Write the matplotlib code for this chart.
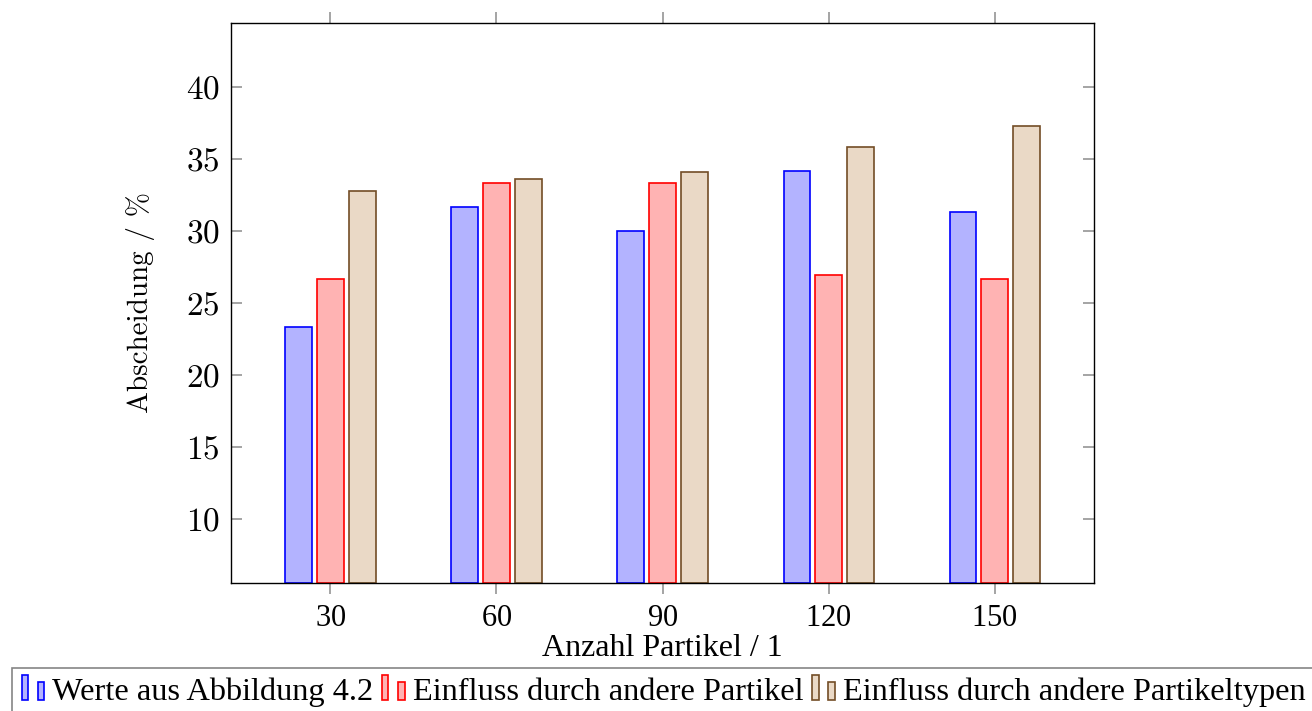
import matplotlib
matplotlib.use('Agg')
import matplotlib.pyplot as plt
from matplotlib.patches import Rectangle
from matplotlib.legend_handler import HandlerBase
import numpy as np

# Messwerte
anzahl = [30, 60, 90, 120, 150]
werte_abb = [23.33, 31.67, 30.0, 34.17, 31.33]
einfluss_partikel = [26.67, 33.33, 33.33, 26.95, 26.67]
einfluss_typen = [32.8, 33.6, 34.08, 35.83, 37.33]

namen = ['Werte aus Abbildung 4.2',
         'Einfluss durch andere Partikel',
         'Einfluss durch andere Partikeltypen']
kanten = ['#0000ff', '#ff0000', '#734d26']
fuellung = ['#b3b3ff', '#ffb3b3', '#ead9c6']

plt.rcParams['axes.formatter.use_mathtext'] = True
cm = 'cmr10'
lib = 'Liberation Serif'


# Legendensymbol wie bei pgfplots: zwei kleine Balken
class ZweiBalken(HandlerBase):
    def create_artists(self, legend, orig, xd, yd, w, h, fs, trans):
        fc = orig.get_facecolor()
        ec = orig.get_edgecolor()
        b = w * 0.26
        r1 = Rectangle((-xd, -yd), b, h * 1.1, fc=fc, ec=ec, lw=1.2, transform=trans)
        r2 = Rectangle((-xd + w * 0.68, -yd), b, h * 0.8, fc=fc, ec=ec, lw=1.2, transform=trans)
        return [r1, r2]


fig = plt.figure(figsize=(13.12, 7.11), dpi=100)
ax = fig.add_axes([0.1759, 0.1796, 0.6582, 0.7887])

x = np.array(anzahl, dtype=float)
breite = 4.8
abstand = 5.75
boden = 5.5
handles = []
for i, werte in enumerate([werte_abb, einfluss_partikel, einfluss_typen]):
    h = np.array(werte) - boden
    b = ax.bar(x + (i - 1) * abstand, h, breite, bottom=boden,
               facecolor=fuellung[i], edgecolor=kanten[i], linewidth=1.2,
               label=namen[i], zorder=2)
    handles.append(b.patches[0])

ax.set_xlim(12, 168)
ax.set_ylim(5.5, 44.5)
ax.set_xticks(anzahl)
ax.set_yticks([10, 15, 20, 25, 30, 35, 40])

ax.tick_params(axis='x', direction='out', length=8, width=1.1, color='#8c8c8c',
               top=True, pad=7, labelsize=22)
ax.tick_params(axis='y', direction='in', length=8, width=1.1, color='#8c8c8c',
               right=True, pad=8, labelsize=24)
for t in ax.get_xticklabels():
    t.set_fontfamily(lib)
for t in ax.get_yticklabels():
    t.set_fontfamily(cm)
for s in ax.spines.values():
    s.set_linewidth(1.0)

ax.set_ylabel('Abscheidung / %', fontfamily=cm, fontsize=21)
ax.yaxis.set_label_coords(-0.088, 0.5)
ax.set_xlabel('Anzahl Partikel / 1', fontfamily=lib, fontsize=23)
ax.xaxis.set_label_coords(0.5, -0.09)

leg = fig.legend(handles, namen, loc='upper left',
                 bbox_to_anchor=(12 / 1312, 1 - 668 / 711),
                 ncol=3, prop={'family': lib, 'size': 23.3},
                 handler_map={Rectangle: ZweiBalken()},
                 handlelength=0.73, handleheight=0.7, handletextpad=0.22,
                 columnspacing=0.27, borderpad=0.3, borderaxespad=0,
                 fancybox=False, frameon=True)
leg.get_frame().set_edgecolor('#666666')
leg.get_frame().set_linewidth(1.2)

fig.savefig('out.png', dpi=100)
